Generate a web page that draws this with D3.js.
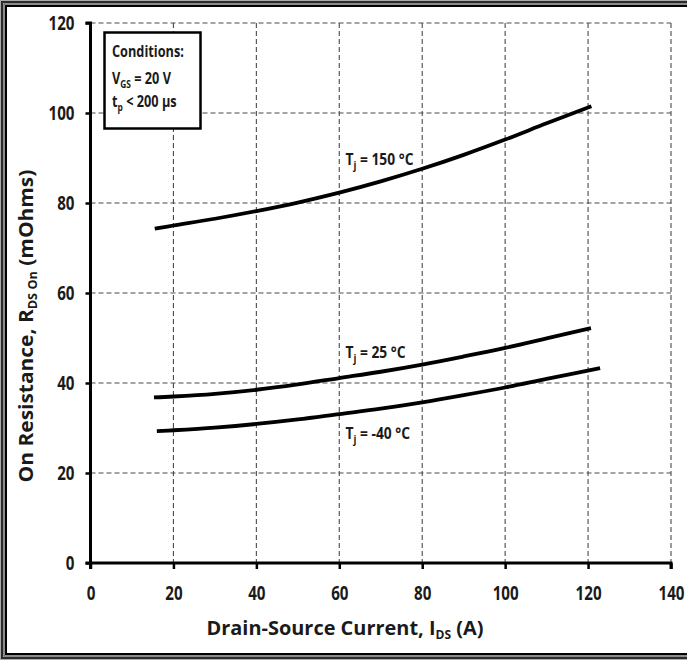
<!DOCTYPE html>
<html>
<head>
<meta charset="utf-8">
<script src="https://cdn.jsdelivr.net/npm/d3@7"></script>
<style>
  html, body { margin: 0; padding: 0; background: #fff; }
  svg text { font-family: "Open Sans", Lato, sans-serif; font-weight: bold; fill: #1a1a1a; }
</style>
</head>
<body>
<svg id="chart" width="687" height="660"></svg>
<script>
// ---- data ----
const xTicks = [0, 20, 40, 60, 80, 100, 120, 140];
const yTicks = [0, 20, 40, 60, 80, 100, 120];
const curve150 = [[15.5,74.3],[20,75.0],[30,76.5],[40,78.2],[50,80.1],[60,82.3],[70,84.8],[80,87.6],[90,90.7],[100,94.1],[110,97.7],[120.8,101.5]];
const curve25 = [[15.3,36.8],[20,37.0],[30,37.6],[40,38.5],[50,39.7],[60,41.1],[70,42.5],[80,44.1],[90,45.9],[100,47.8],[110,49.9],[120.7,52.2]];
const curveM40 = [[16,29.3],[20,29.5],[30,30.1],[40,30.9],[50,31.9],[60,33.1],[70,34.3],[80,35.7],[90,37.3],[100,39.0],[110,40.9],[122.9,43.3]];
const seriesNames = ["150", "25", "-40"];
const seriesLabelAt = [[61.5, 88.5], [61.5, 45.5], [61.5, 27.5]];
const conditions = ["Conditions:", "V|GS| = 20 V", "t|p| < 200 µs"];

const svg = d3.select("#chart");
const W = 687, H = 660;

// outer frame
svg.append("rect").attr("x", 0.5).attr("y", 0.5).attr("width", W + 5).attr("height", H - 1)
  .attr("fill", "none").attr("stroke", "#aaa").attr("stroke-width", 1);
svg.append("rect").attr("x", 2).attr("y", 2).attr("width", W + 5).attr("height", H - 4)
  .attr("fill", "none").attr("stroke", "#2a2a2a").attr("stroke-width", 2);
svg.append("rect").attr("x", 4).attr("y", 4).attr("width", W + 5).attr("height", H - 8)
  .attr("fill", "none").attr("stroke", "#666").attr("stroke-width", 1.5);
svg.append("rect").attr("x", 6).attr("y", 6).attr("width", W + 5).attr("height", H - 12)
  .attr("fill", "none").attr("stroke", "#000").attr("stroke-width", 2);

const x = d3.scaleLinear().domain([0, 140]).range([90.5, 671]);
const y = d3.scaleLinear().domain([0, 120]).range([563, 23]);

// helper: place a text and squeeze it horizontally to a target width (narrow font look)
function squeeze(t, tx, ty, target, extra) {
  const len = t.node().getComputedTextLength();
  const sx = target / len;
  t.attr("x", 0).attr("y", 0).attr("transform", `translate(${tx},${ty})${extra || ""} scale(${sx},1)`);
  return sx;
}

// grid
const g = svg.append("g");
g.selectAll(".vg").data(xTicks.filter(d => d > 0)).enter().append("line")
  .attr("x1", d => x(d)).attr("x2", d => x(d)).attr("y1", y(120)).attr("y2", y(0))
  .attr("stroke", "#4a4a4a").attr("stroke-width", 1.1).attr("stroke-dasharray", "5,3");
g.selectAll(".hg").data(yTicks.filter(d => d > 0)).enter().append("line")
  .attr("x1", x(0)).attr("x2", x(140)).attr("y1", d => y(d)).attr("y2", d => y(d))
  .attr("stroke", "#4a4a4a").attr("stroke-width", 1.1).attr("stroke-dasharray", "5,3");

// axes
const xAxis = d3.axisBottom(x).tickValues(xTicks).tickSize(6).tickPadding(18).tickFormat(d3.format("d"));
const yAxis = d3.axisLeft(y).tickValues(yTicks).tickSize(5).tickPadding(11).tickFormat(d3.format("d"));
const gx = svg.append("g").attr("transform", `translate(0,${y(0)})`).call(xAxis);
const gy = svg.append("g").attr("transform", `translate(${x(0)},0)`).call(yAxis);
[gx, gy].forEach(a => {
  a.select(".domain").attr("stroke", "#000").attr("stroke-width", 3);
  a.selectAll(".tick line").attr("stroke", "#000").attr("stroke-width", 2.5);
  a.selectAll(".tick text").style("font-size", "19px").attr("fill", "#1a1a1a")
    .style("font-family", "'Open Sans', Lato, sans-serif").style("font-weight", "bold");
});
gx.select(".domain").attr("d", `M${x(0)},6V0H${x(140)}V6`);
gy.select(".domain").attr("d", `M-5,${y(120)}H0V${y(0)}H-5`);
// squeeze tick labels: "120" should be ~26px wide
const ref = gy.selectAll(".tick text").filter(d => d === 120).node().getComputedTextLength();
const tsx = 26 / ref;
gx.selectAll(".tick text").attr("transform", `scale(${tsx},1)`);
gy.selectAll(".tick text").attr("transform", `scale(${tsx},1)`).attr("x", -16 / tsx);

// curves
const line = d3.line().x(d => x(d[0])).y(d => y(d[1])).curve(d3.curveCatmullRom.alpha(0.5));
[curve150, curve25, curveM40].forEach(c => {
  svg.append("path").datum(c).attr("d", line).attr("fill", "none")
    .attr("stroke", "#000").attr("stroke-width", 3.8).attr("stroke-linecap", "butt");
});

// curve labels
let labelSx = null;
seriesNames.forEach((n, i) => {
  const t = svg.append("text").style("font-size", "16px");
  t.append("tspan").text("T");
  t.append("tspan").text("j").attr("dy", 4).style("font-size", "11px");
  t.append("tspan").text(` = ${n} °C`).attr("dy", -4);
  const tx = x(seriesLabelAt[i][0]), ty = y(seriesLabelAt[i][1]);
  if (labelSx === null) {
    labelSx = squeeze(t, tx, ty, 68);
  } else {
    t.attr("transform", `translate(${tx},${ty}) scale(${labelSx},1)`);
  }
});

// conditions box
svg.append("rect").attr("x", 104.5).attr("y", 32.5).attr("width", 96).attr("height", 96)
  .attr("fill", "#fff").attr("stroke", "#000").attr("stroke-width", 2.5);
const condY = [57, 84, 107];
let condSx = null;
conditions.forEach((c, i) => {
  const parts = c.split("|");
  const t = svg.append("text").style("font-size", "16px");
  t.append("tspan").text(parts[0]);
  if (parts.length > 1) {
    t.append("tspan").text(parts[1]).attr("dy", 4).style("font-size", "10.5px");
    t.append("tspan").text(parts[2]).attr("dy", -4);
  }
  if (condSx === null) condSx = squeeze(t, 112, condY[i], 72);
  else t.attr("transform", `translate(112,${condY[i]}) scale(${condSx},1)`);
});

// axis titles
const xt = svg.append("text").attr("text-anchor", "middle").style("font-size", "19px");
xt.append("tspan").text("Drain-Source Current, I");
xt.append("tspan").text("DS").attr("dy", 4).style("font-size", "11.5px");
xt.append("tspan").text(" (A)").attr("dy", -4);
squeeze(xt, 345, 635, 277);

const yt = svg.append("text").attr("text-anchor", "middle").style("font-size", "19px");
yt.append("tspan").text("On Resistance, R");
yt.append("tspan").text("DS On").attr("dy", 4).style("font-size", "11.5px");
yt.append("tspan").text(" (mOhms)").attr("dy", -4);
squeeze(yt, 33, 326, 313, " rotate(-90)");
</script>
</body>
</html>
